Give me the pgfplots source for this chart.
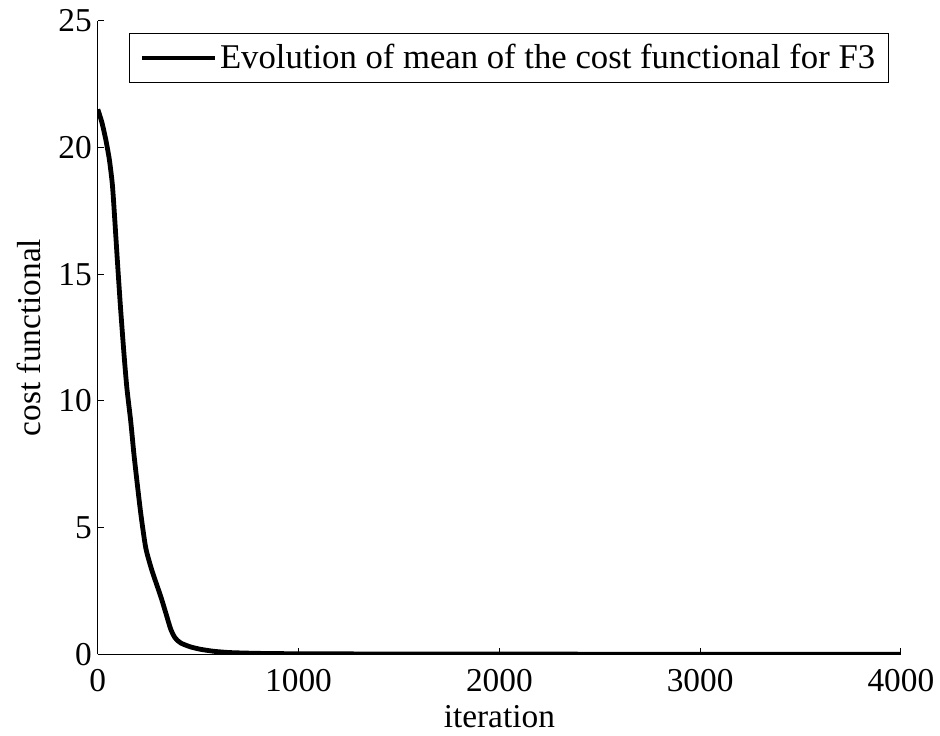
\documentclass[border=0pt]{standalone}
\usepackage{fontspec}
\setmainfont{Liberation Serif}
\usepackage{pgfplots}
\pgfplotsset{compat=1.18}

\begin{document}
\begin{tikzpicture}
\begin{axis}[
  name=ax,
  scale only axis,
  width=602pt, height=475pt,
  xmin=0, xmax=4000, ymin=0, ymax=25,
  xtick={0,1000,2000,3000,4000},
  ytick={0,5,10,15,20,25},
  axis x line*=bottom, axis y line*=left,
  axis line style={-, line width=0.75pt},
  tick align=inside,
  major tick length=5pt,
  tick style={line width=0.75pt, black},
  /pgf/number format/assume math mode=true,
  /pgf/number format/1000 sep={},
  ticklabel style={font=\fontsize{25}{29}\selectfont},
  xticklabel style={yshift=-8pt},
  yticklabel style={xshift=-1pt},
  label style={font=\fontsize{25}{29}\selectfont},
  xlabel={iteration},
  ylabel={cost functional},
  xlabel style={at={(rel axis cs:0.5,0)}, anchor=base, yshift=-54.5pt},
  ylabel style={at={(rel axis cs:0,0.5)}, anchor=center, yshift=51.5pt},
  legend style={font=\fontsize{26}{30}\selectfont, draw=black, line width=0.75pt,
    inner xsep=8pt, inner ysep=6.5pt,
    at={(1,1)}, xshift=-9pt, yshift=-9pt, anchor=north east, legend cell align=left},
  legend image code/.code={\draw[line width=3.2pt] (0pt,0pt) -- (55pt,0pt);},
]
\addplot[black, line width=3.6pt, smooth, tension=0.4] coordinates {
  (0,21.5) (20,21.0) (40,20.3) (58,19.5) (73,18.5) (85,17.1) (97,15.6)
  (113,13.7) (131,11.8) (145,10.5) (164,9.2) (180,7.9) (197,6.7)
  (215,5.5) (239,4.2) (270,3.3) (313,2.3) (340,1.6) (363,1.0)
  (385,0.65) (413,0.45) (460,0.3) (512,0.2) (580,0.12) (662,0.07)
  (800,0.04) (1000,0.025) (1500,0.015) (2000,0.01) (3000,0.008) (4000,0.006)
};
\addlegendentry{Evolution of mean of the cost functional for F3}
\end{axis}
\pgfresetboundingbox
\path ([shift={(-73.3pt,-61pt)}]ax.south west) rectangle ([shift={(29.3pt,15.5pt)}]ax.north east);
\end{tikzpicture}
\end{document}
